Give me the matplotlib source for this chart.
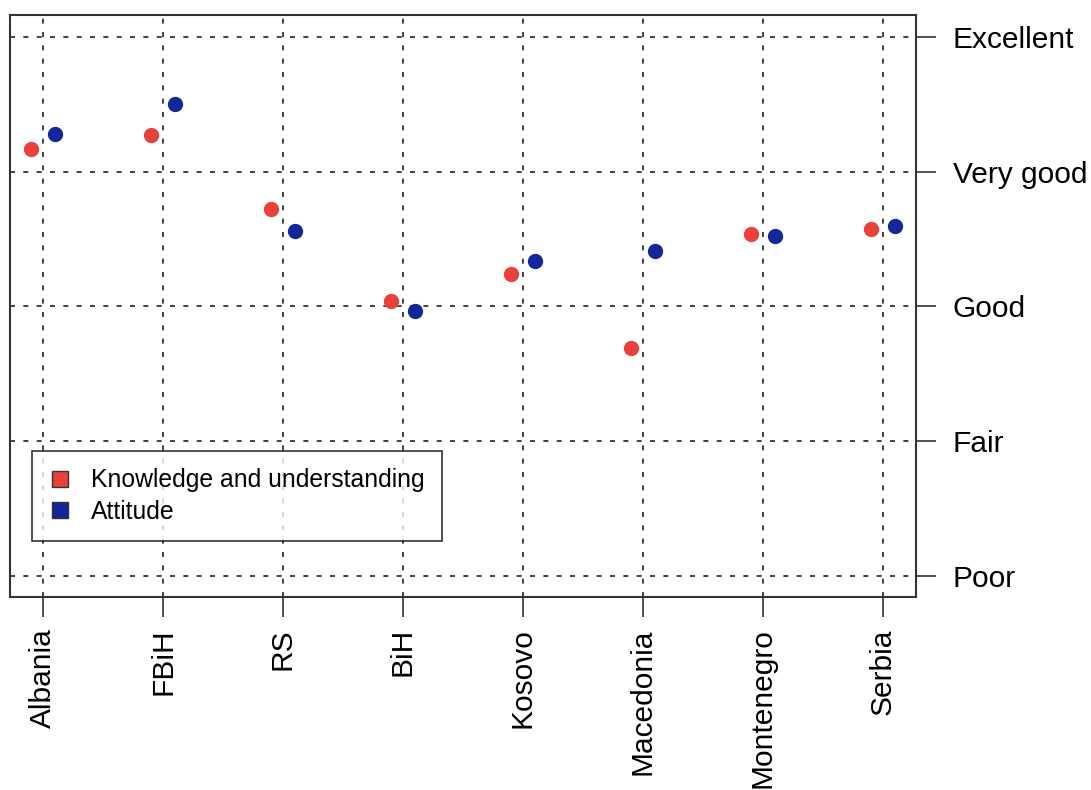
import numpy as np
import matplotlib.pyplot as plt

plt.rcParams['font.family'] = ['Liberation Sans', 'DejaVu Sans']

# input data
countries = ['Albania', 'FBiH', 'RS', 'BiH', 'Kosovo', 'Macedonia', 'Montenegro', 'Serbia']
knowledge = [4.17, 4.27, 3.72, 3.04, 3.24, 2.69, 3.54, 3.575]
attitude = [4.28, 4.50, 3.56, 2.97, 3.34, 3.41, 3.52, 3.60]
levels = ['Poor', 'Fair', 'Good', 'Very good', 'Excellent']

red = '#E8403A'
blue = '#14279A'

x = np.arange(1, len(countries) + 1)

fig = plt.figure(figsize=(10.91, 7.9), dpi=100)
ax = fig.add_axes([10 / 1091, 1 - 597 / 790, 906 / 1091, 582 / 790])

ax.plot(x - 0.1, knowledge, 'o', color=red, markersize=10, zorder=3)
ax.plot(x + 0.1, attitude, 'o', color=blue, markersize=10, zorder=3)

ax.set_xlim(0.725, 8.275)
ax.set_ylim(0.844, 5.163)

# dotted grid
for xi in x:
    ax.axvline(xi, color='#222222', linestyle=(0, (3, 5)), linewidth=1.2, zorder=1)
for yi in range(1, 6):
    ax.axhline(yi, color='#222222', linestyle=(0, (3, 5)), linewidth=1.2, zorder=1)

ax.set_xticks(x)
ax.set_xticklabels(countries, rotation=90, fontsize=21.5)
ax.yaxis.tick_right()
ax.set_yticks(range(1, 6))
ax.set_yticklabels(levels, fontsize=21.5)
ax.tick_params(axis='both', length=14.5, width=1.2, color='#333333')
ax.tick_params(axis='x', pad=8)
ax.tick_params(axis='y', pad=12)

for s in ax.spines.values():
    s.set_linewidth(1.5)
    s.set_color('#333333')

# legend with square markers
h1 = plt.Line2D([], [], marker='s', linestyle='none', markerfacecolor=red,
                markeredgecolor='#333333', markersize=11)
h2 = plt.Line2D([], [], marker='s', linestyle='none', markerfacecolor=blue,
                markeredgecolor='#333333', markersize=11)
leg = ax.legend([h1, h2], ['Knowledge and understanding', 'Attitude'],
                loc='lower left', bbox_to_anchor=(22 / 906, 56 / 582),
                fontsize=17.8, frameon=True, fancybox=False, borderpad=0.7,
                handletextpad=0.8, labelspacing=0.3, handlelength=0.9,
                borderaxespad=0)
leg.get_frame().set_edgecolor('black')
leg.get_frame().set_linewidth(1.2)

fig.savefig('out.png', dpi=100)
